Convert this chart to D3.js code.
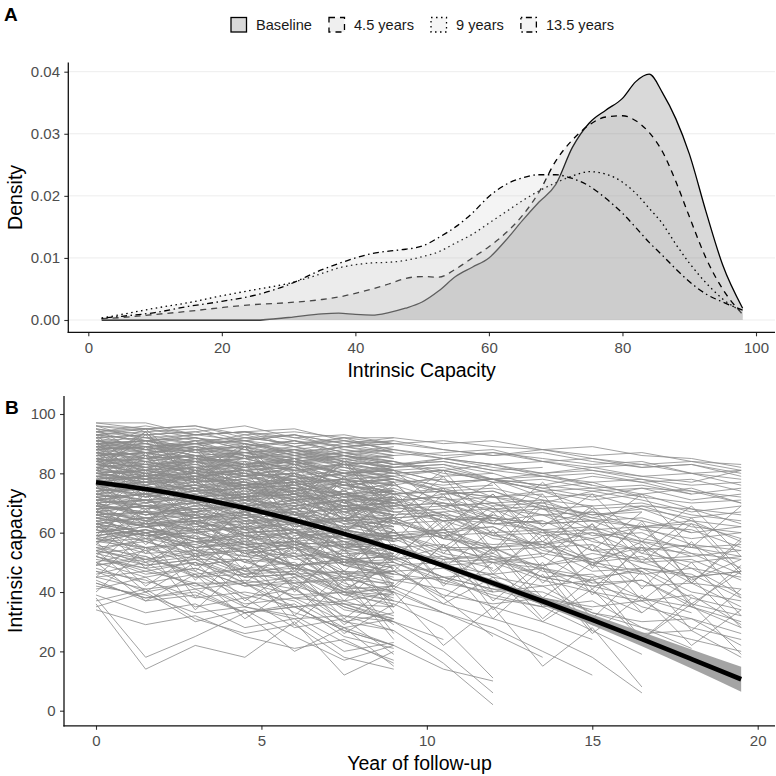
<!DOCTYPE html>
<html><head><meta charset="utf-8">
<script src="https://cdn.jsdelivr.net/npm/d3@7/dist/d3.min.js"></script>
<style>
html,body{margin:0;padding:0;background:#fff;}
svg{display:block;font-family:"Liberation Sans",Arial,Helvetica,sans-serif;}
</style></head>
<body><svg id="c" width="776" height="776"></svg>
<script>
// ---------- Panel A data ----------
const seriesNames = ["Baseline","4.5 years","9 years","13.5 years"];
const icGrid = [2,5,10,15,20,25,30,35,37.5,40,42.5,45,47.5,50,52.5,55,57.5,60,62.5,65,67.5,70,72.5,75,77.5,80,82,84,86,88,90,92.5,95,98];
const densBaseline = [0,0,0,0,0,0,0.0004,0.0010,0.0011,0.0009,0.0008,0.0012,0.0019,0.0029,0.0047,0.0070,0.0085,0.0100,0.0128,0.0160,0.0190,0.0218,0.0278,0.0317,0.0338,0.0357,0.0384,0.0396,0.0366,0.0324,0.0268,0.0175,0.0089,0.0019];
const dens45 = [0.0002,0.0004,0.0009,0.0014,0.0020,0.0025,0.0028,0.0033,0.0037,0.0043,0.0050,0.0058,0.0067,0.0070,0.0069,0.0082,0.0100,0.0118,0.0140,0.0168,0.0206,0.0256,0.0290,0.0314,0.0327,0.0329,0.0321,0.0302,0.0271,0.0223,0.0167,0.0100,0.0050,0.0009];
const dens9 = [0.0003,0.0009,0.0019,0.0028,0.0039,0.0049,0.0059,0.0075,0.0084,0.0089,0.0092,0.0093,0.0096,0.0102,0.0110,0.0124,0.0138,0.0156,0.0174,0.0192,0.0208,0.0221,0.0232,0.0239,0.0235,0.0222,0.0204,0.0180,0.0155,0.0122,0.0092,0.0060,0.0034,0.0013];
const dens135 = [0.0003,0.0006,0.0012,0.0022,0.0030,0.0040,0.0057,0.0081,0.0091,0.0100,0.0107,0.0111,0.0114,0.0119,0.0133,0.0150,0.0172,0.0199,0.0218,0.0229,0.0234,0.0234,0.0228,0.0216,0.0196,0.0172,0.0149,0.0125,0.0104,0.0082,0.0062,0.0042,0.0029,0.0016];
const densTicksY = [0,0.01,0.02,0.03,0.04];
const icTicksX = [0,20,40,60,80,100];

// ---------- Panel B data ----------
const waves = [0,1.5,3,4.5,6,7.5,9,10.5,12,13.5,15,16.5,18,19.5];
const meanIC  = [77.0,74.7,71.8,68.3,64.2,59.6,54.5,48.9,43.0,36.9,30.6,24.1,17.4,10.6];
const lowerIC = [76.0,73.9,71.1,67.6,63.5,58.9,53.7,48.0,41.9,35.5,28.8,21.7,14.2,6.4];
const upperIC = [78.0,75.5,72.5,69.0,64.9,60.3,55.3,49.8,44.1,38.3,32.4,26.5,20.6,14.8];
const yearTicks = [0,5,10,15,20];
const capTicks = [0,20,40,60,80,100];
// participants followed up to year 9
const trajTo9 = [
[96,94,95,91,93,90,92],[94,92,90,93,89,91,88],[93,95,92,89,91,87,89],[92,89,91,90,86,88,85],
[91,92,88,90,87,84,86],[90,88,91,86,88,85,82],[89,91,87,88,84,86,81],[89,85,88,86,83,80,83],
[88,90,86,83,86,82,80],[87,84,86,85,81,83,78],[87,89,85,82,84,80,81],[86,83,85,81,83,78,76],
[85,87,82,84,79,81,77],[85,81,84,80,78,80,74],[84,86,81,79,82,76,78],[83,80,82,78,80,75,72],
[83,85,79,81,76,78,73],[82,78,81,77,74,77,70],[81,83,80,75,78,72,74],[80,77,79,76,72,74,68],
[80,82,77,78,73,70,72],[79,76,78,73,75,70,66],[78,80,75,77,71,73,67],[77,74,76,71,73,67,69],
[77,79,73,75,69,71,64],[76,72,75,70,68,71,62],[75,77,72,69,71,65,66],[74,71,73,68,70,63,60],
[73,75,70,71,65,67,61],[72,68,71,66,63,65,57],[71,73,67,69,62,64,58],[70,66,69,63,65,58,54],
[69,71,65,67,60,56,59],[68,64,66,61,63,55,52],[67,69,63,64,57,59,50],[66,62,65,58,60,52,55],
[65,67,60,62,55,50,53],[64,60,63,56,57,49,46],[63,65,58,60,52,54,44],[62,57,61,53,55,46,49],
[60,63,55,57,49,44,47],[59,54,57,50,52,42,40],[57,60,52,55,45,47,37],[56,51,54,46,49,39,42],
[54,58,49,51,42,37,40],[52,47,50,43,45,34,31],[50,54,45,48,38,40,29],[48,43,46,38,41,30,33],
[46,50,41,43,33,28,31],[43,38,41,33,36,25,21],[41,45,35,38,28,31,19],[39,33,36,28,31,20,23],
[37,41,31,26,29,18,14],[34,29,32,25,21,24,16],
[97,97,93,94,95,91,90],[95,93,94,96,92,89,91],[94,95,96,92,90,92,87],[93,91,89,92,93,88,86],
[92,93,94,90,87,89,90],[91,90,87,89,91,86,84],[90,91,92,88,85,87,88],[89,88,85,87,89,84,82],
[88,89,90,86,83,85,86],[87,86,83,85,87,82,79],[86,87,88,83,81,83,84],[85,84,81,83,85,79,76],
[84,85,86,81,78,80,82],[83,82,79,81,82,76,73],[82,83,84,79,76,78,79],[81,80,77,79,80,73,70],
[80,81,82,76,74,76,77],[79,78,74,76,78,70,67],[78,79,80,74,71,73,74],[77,76,72,74,75,67,64],
[76,77,77,71,69,71,71],[75,73,70,72,73,64,61],[74,75,75,69,66,68,68],[73,71,67,69,70,61,58],
[72,73,73,66,63,65,65],[71,69,65,67,67,58,55],[70,71,71,64,61,62,62],[69,67,62,64,64,55,51],
[68,69,68,61,58,59,59],[67,64,60,62,61,52,48],[66,67,66,59,55,56,56],[65,62,57,59,58,49,45],
[64,65,63,56,52,53,53],[63,60,55,57,55,46,42],[62,63,61,53,49,50,50],[61,57,52,54,52,43,38],
[59,61,58,50,46,47,46],[58,55,49,51,49,40,35],[57,58,55,47,43,44,43],[55,52,46,48,46,36,31],
[53,55,51,43,39,40,39],[51,48,42,44,41,32,27],[49,51,47,39,35,36,35],[47,44,38,40,37,28,22],
[45,47,43,35,31,32,30],[42,39,33,35,32,23,17],
[96,91,93,94,89,92,90],[94,90,92,88,91,87,85],[93,88,90,91,86,89,87],[91,87,89,85,88,83,81],
[90,85,88,89,83,86,84],[88,84,86,82,85,80,78],[87,82,85,86,80,83,81],[85,81,83,79,82,76,74],
[84,79,82,83,77,80,77],[82,78,80,76,79,73,70],[81,76,79,80,73,76,74],[79,75,77,72,75,69,66],
[78,73,76,76,70,73,70],[76,72,74,69,71,65,62],[75,70,72,73,66,69,66],[73,69,70,65,68,61,58],
[72,66,69,69,62,65,62],[70,65,67,61,64,57,53],[69,63,65,65,58,61,57],[67,62,63,57,60,52,48],
[65,59,61,61,54,56,52],[63,58,59,53,55,47,43],[61,55,57,56,49,51,46],[58,53,54,48,50,41,37],
[55,49,51,51,43,45,40],[52,46,48,42,44,35,30],[47,40,43,43,35,37,32],[44,37,39,33,35,27,22],
[38,18,25,33,20,28,15],[36,14,22,18,30,12,20],[35,40,30,34,25,17,22],
[86,70,79,62,74,55,66],[58,74,52,69,47,63,39],[93,79,88,72,83,65,76],[69,84,63,78,56,71,50],
[79,63,75,57,69,50,61],[52,68,47,62,40,55,33],[88,95,80,90,74,84,68],[63,48,60,43,56,37,52],
[75,89,70,84,62,78,57],[45,60,38,54,32,47,26],[82,67,78,61,72,56,66],[57,42,53,37,48,31,43],
[91,77,86,71,80,64,75],[68,53,64,47,59,40,53],[72,86,66,81,61,75,55],[40,55,34,49,29,44,24],
[84,94,78,89,73,83,67],[50,37,46,31,42,26,36]
];
// participants followed up to year 19.5
const trajTo195 = [
[96,95,93,94,92,93,90,91,89,88,86,87,84,83],[94,96,93,91,93,90,91,88,86,88,85,83,84,81],
[93,91,92,90,88,90,87,85,87,84,82,83,80,78],[92,93,90,91,89,86,88,85,83,84,81,79,80,76],
[91,89,90,87,88,86,83,85,82,80,81,78,76,77],[90,91,88,89,85,87,84,81,83,79,77,78,74,72],
[89,87,88,85,86,83,84,80,78,80,76,73,75,70],[88,89,86,87,83,84,80,81,77,75,77,72,70,71],
[87,85,86,83,84,80,81,77,78,74,71,73,68,66],[86,87,84,85,81,82,78,76,78,72,73,68,65,67],
[85,83,84,81,82,78,79,74,72,74,68,69,64,62],[84,85,82,83,79,76,78,73,74,69,66,68,62,60],
[83,81,82,79,80,76,73,75,70,71,65,62,64,57],[82,83,80,81,77,78,73,74,68,66,67,61,58,60],
[81,79,80,77,75,77,71,72,67,68,61,62,56,54],[80,81,78,79,75,73,75,69,70,63,64,58,55,56],
[79,77,78,75,76,71,72,66,64,66,59,60,53,51],[78,79,76,77,72,73,68,69,63,64,57,54,56,48],
[77,75,76,73,74,69,70,64,65,59,60,53,50,52],[76,77,74,72,74,68,66,67,60,61,54,55,48,45],
[75,73,74,71,69,71,65,66,59,56,58,50,51,44],[74,75,72,73,68,69,63,60,62,55,56,48,45,47],
[73,71,72,68,69,64,65,59,60,53,50,52,43,41],[72,73,70,71,66,62,64,58,55,57,49,46,48,39],
[71,69,70,66,67,62,59,61,54,55,47,48,40,37],[70,71,68,69,63,64,58,59,52,49,51,42,43,35],
[69,67,68,64,65,59,60,54,55,48,45,47,38,34],[68,69,66,67,61,58,60,53,50,52,43,44,36,32],
[67,65,66,62,63,57,58,51,52,45,46,38,35,30],[66,67,64,65,59,60,54,51,53,45,42,44,35,28],
[65,63,64,60,61,55,56,49,46,48,40,37,39,29],[63,65,61,62,56,57,51,52,45,42,44,35,31,26],
[61,59,60,56,57,51,52,45,46,38,35,37,28,24],[59,61,57,54,56,49,50,43,40,42,33,30,31,22],
[57,55,56,52,49,51,44,45,38,35,37,28,24,20],[55,57,53,54,48,45,47,39,36,38,29,26,27,18],
[91,88,90,91,87,89,86,87,88,84,85,82,83,80],[88,86,84,87,88,84,82,85,83,80,82,79,77,81],
[85,82,84,85,81,79,82,83,78,76,79,77,73,75],[83,80,78,82,83,78,76,79,80,75,72,75,74,70],
[80,77,79,80,75,73,77,78,72,70,74,71,67,69],[78,74,72,76,77,72,70,73,74,68,65,69,68,63],
[75,72,74,75,70,67,71,72,65,63,67,64,60,62],[72,69,67,71,72,66,63,67,68,61,58,62,61,55],
[70,66,68,69,64,61,65,66,58,56,60,57,52,54],[67,64,61,66,67,60,57,61,62,54,51,55,53,46],
[64,60,62,63,57,55,59,60,51,49,53,50,45,47],[62,59,56,60,61,54,51,55,55,47,44,48,46,38],
[97,95,96,93,94,92,92,90,91,88,89,86,85,82],[95,92,93,94,91,89,90,88,86,87,84,82,83,79],
[93,94,91,92,90,91,88,86,87,85,83,84,80,81],[90,87,89,86,84,86,83,84,81,79,80,77,78,74],
[86,88,85,83,85,81,79,81,78,76,74,75,71,73],[83,84,81,82,79,77,78,74,75,71,69,70,66,64],
[79,81,78,76,77,73,74,70,68,69,64,62,63,58],[76,74,75,72,73,69,67,68,63,61,62,57,55,52],
[88,74,81,69,77,64,72,58,66,61,49,57,44,51],[61,76,63,70,57,73,52,64,47,59,41,55,36,47],
[92,81,89,73,84,70,77,62,73,55,68,50,63,46],[71,58,67,52,64,47,61,43,55,38,50,33,45,28],
[83,91,74,86,66,79,63,75,54,71,48,64,43,58],[56,69,51,64,46,61,42,56,37,50,31,47,27,41],
[95,86,91,79,85,74,81,68,77,62,73,57,69,52],[77,64,73,59,69,54,65,48,61,43,56,37,50,32],
[67,81,61,76,57,71,51,66,46,61,39,56,35,49],[85,72,81,66,77,60,73,53,67,48,63,41,57,38],
[49,64,44,59,41,54,35,51,31,46,26,39,22,34],[90,78,85,71,81,66,77,61,73,57,69,53,65,47],
[73,87,69,83,63,79,57,73,53,69,49,63,43,57],[64,50,59,45,55,41,49,36,45,30,41,24,36,19],
[80,93,77,89,71,85,69,81,63,77,61,73,55,69]
];
// participants who left the study between year 10.5 and 18
const trajDropout = [
[89,90,87,85,87,83,84,79],[82,79,81,77,78,73,71,66],[74,76,71,72,66,64,65,58],
[66,62,64,59,56,57,50,44],[58,60,54,52,53,45,40,33],[50,45,48,42,43,35,30,24],
[91,88,89,87,85,86,82,83,80],[86,87,84,82,84,79,80,75,76],[80,78,79,75,76,71,69,70,64],
[77,79,75,76,71,72,67,64,66],[71,68,70,65,66,61,58,60,53],[67,69,65,66,60,58,59,52,48],
[62,59,60,55,56,50,47,48,40],[57,60,54,55,48,46,47,38,25],[53,49,51,45,46,39,36,28,11],
[49,52,45,46,38,36,30,20,6],[45,41,43,36,38,30,27,16,2],[43,38,40,33,35,27,22,14,10],
[90,91,88,89,86,87,83,84,81,82],[84,82,83,80,81,77,78,74,72,73],[76,78,74,75,71,69,70,65,63,64],
[69,66,67,63,64,59,60,55,51,53],[60,62,58,59,53,51,52,45,41,36],[52,48,50,45,46,40,37,33,26,18],
[88,89,86,87,84,85,81,82,78,79,76],[83,80,82,78,79,75,76,71,72,68,69],[79,81,77,78,73,74,69,70,65,63,64],
[73,70,72,67,68,63,64,58,56,57,51],[68,70,65,66,60,61,55,56,50,48,43],[63,60,61,56,57,51,49,50,42,38,34],
[58,61,55,56,49,50,44,41,35,30,24],[54,50,52,46,47,40,41,33,28,20,12],
[87,85,86,83,84,80,81,77,78,74,75,72],[82,84,80,81,77,78,73,74,69,70,66,67],[77,75,76,72,73,68,69,64,65,60,61,56],
[71,73,69,70,64,65,60,61,55,56,50,47],[65,62,64,59,60,54,55,49,50,44,40,33],[59,61,57,58,51,52,46,44,39,35,27,19],
[54,51,53,47,48,41,42,36,31,26,18,6],
[86,87,85,84,82,83,80,81,77,78,75,76,73],[80,78,79,76,77,72,73,69,70,66,64,65,60],
[73,75,71,72,67,68,63,64,59,60,54,51,52],[66,63,64,60,61,55,56,50,51,45,42,38,33],
[60,62,58,55,57,50,51,45,41,40,33,28,21],
[87,73,82,67,78,60,72,55,66],[66,80,60,75,53,69,47,62,40],[76,62,71,56,67,49,61,42,55,35],
[59,73,54,68,48,62,41,56,34,48,27],[89,76,84,70,80,64,74,58,69,52,63,46],
[70,56,66,50,61,44,56,38,50,31,45,24,38],[81,94,76,89,70,84,65,79,59,73,54,67],
[54,40,50,35,45,29,40,22,35,15,28,8]
];

// ---------- styles ----------
const fillCols = ["#414141","#b1b1b1","#cdcdcd","#c8c8c8"];
const dashes = [null,"6,5","1.5,3.5","1.5,3.5,6,3.5"];
const FONT_TICK = 15, FONT_TITLE = 19.5;

const svg = d3.select("#c");
svg.append("rect").attr("width",776).attr("height",776).attr("fill","#fff");

// ================= PANEL A =================
const A = {left:68.3, right:775, top:62.5, bottom:332.3};
const xA = d3.scaleLinear().domain([0,100]).range([88.3,756]);
const yA = d3.scaleLinear().domain([0,0.04]).range([320,71.7]);

const gA = svg.append("g");
gA.selectAll("line.grid").data(densTicksY).join("line")
  .attr("x1",A.left).attr("x2",A.right)
  .attr("y1",d=>yA(d)).attr("y2",d=>yA(d))
  .attr("stroke","#ebebeb").attr("stroke-width",0.9);

const densSeries = [densBaseline,dens45,dens9,dens135];
const area = d3.area().x((d,i)=>xA(icGrid[i])).y0(yA(0)).y1(d=>yA(d)).curve(d3.curveMonotoneX);
const lineA = d3.line().x((d,i)=>xA(icGrid[i])).y(d=>yA(d)).curve(d3.curveMonotoneX);
densSeries.forEach((s,k)=>{
  gA.append("path").attr("d",area(s)).attr("fill",fillCols[k]).attr("fill-opacity",0.2).attr("stroke","none");
  const p = gA.append("path").attr("d",lineA(s)).attr("fill","none").attr("stroke","#000").attr("stroke-width",1.3);
  if (dashes[k]) p.attr("stroke-dasharray",dashes[k]);
});

gA.append("g").attr("transform",`translate(${A.left},0)`)
  .call(d3.axisLeft(yA).tickValues(densTicksY).tickFormat(d3.format(".2f")).tickSize(4).tickPadding(4.3));
gA.append("g").attr("transform",`translate(0,${A.bottom})`)
  .call(d3.axisBottom(xA).tickValues(icTicksX).tickFormat(d3.format("d")).tickSize(4).tickPadding(5.7));
gA.append("line").attr("x1",A.left).attr("x2",A.left).attr("y1",A.top).attr("y2",A.bottom+0.6).attr("stroke","#111").attr("stroke-width",1.3);
gA.append("line").attr("x1",A.left-0.6).attr("x2",A.right).attr("y1",A.bottom).attr("y2",A.bottom).attr("stroke","#111").attr("stroke-width",1.3);

gA.append("text").attr("x",(A.left+A.right)/2).attr("y",377).attr("text-anchor","middle")
  .attr("font-size",FONT_TITLE).attr("fill","#000").text("Intrinsic Capacity");
gA.append("text").attr("transform",`translate(21.5,${(A.top+A.bottom)/2}) rotate(-90)`).attr("text-anchor","middle")
  .attr("font-size",FONT_TITLE).attr("fill","#000").text("Density");
svg.append("text").attr("x",4).attr("y",21).attr("font-size",19).attr("font-weight","bold").text("A");

// legend
const leg = svg.append("g");
let lx = 231;
seriesNames.forEach((n,k)=>{
  leg.append("rect").attr("x",lx).attr("y",17.5).attr("width",15.5).attr("height",14.5).attr("fill","#fff");
  const r = leg.append("rect").attr("x",lx).attr("y",17.5).attr("width",15.5).attr("height",14.5)
    .attr("fill",fillCols[k]).attr("fill-opacity",0.2).attr("stroke","#000").attr("stroke-width",1.3);
  if (dashes[k]) r.attr("stroke-dasharray",dashes[k]);
  const t = leg.append("text").attr("x",lx+25).attr("y",30).attr("font-size",14.6).attr("fill","#1a1a1a").text(n);
  lx += 25 + t.node().getComputedTextLength() + 17;
});

// ================= PANEL B =================
const B = {left:64, right:775, top:396, bottom:725.8};
const xB = d3.scaleLinear().domain([0,20]).range([96,757.7]);
const yB = d3.scaleLinear().domain([0,100]).range([710.7,414]);
const gB = svg.append("g");

const trajectories = trajTo9.concat(trajTo195, trajDropout);
const lineB = d3.line().x((d,i)=>xB(waves[i])).y(d=>yB(d));
gB.append("g").selectAll("path").data(trajectories).join("path")
  .attr("d",d=>lineB(d)).attr("fill","none").attr("stroke","#8a8a8a").attr("stroke-width",0.8);

const ribbon = d3.area().x((d,i)=>xB(waves[i])).y0((d,i)=>yB(lowerIC[i])).y1((d,i)=>yB(upperIC[i])).curve(d3.curveMonotoneX);
gB.append("path").attr("d",ribbon(meanIC)).attr("fill","#9a9a9a").attr("fill-opacity",0.9);
gB.append("path").attr("d",d3.line().x((d,i)=>xB(waves[i])).y(d=>yB(d)).curve(d3.curveMonotoneX)(meanIC))
  .attr("fill","none").attr("stroke","#000").attr("stroke-width",4.6);

gB.append("g").attr("transform",`translate(${B.left},0)`)
  .call(d3.axisLeft(yB).tickValues(capTicks).tickFormat(d3.format("d")).tickSize(4).tickPadding(4.3));
gB.append("g").attr("transform",`translate(0,${B.bottom})`)
  .call(d3.axisBottom(xB).tickValues(yearTicks).tickFormat(d3.format("d")).tickSize(4).tickPadding(5.7));
gB.append("line").attr("x1",B.left).attr("x2",B.left).attr("y1",B.top).attr("y2",B.bottom+0.6).attr("stroke","#111").attr("stroke-width",1.3);
gB.append("line").attr("x1",B.left-0.6).attr("x2",B.right).attr("y1",B.bottom).attr("y2",B.bottom).attr("stroke","#111").attr("stroke-width",1.3);

gB.append("text").attr("x",(B.left+B.right)/2).attr("y",770).attr("text-anchor","middle")
  .attr("font-size",FONT_TITLE).attr("fill","#000").text("Year of follow-up");
gB.append("text").attr("transform",`translate(21.5,${(B.top+B.bottom)/2}) rotate(-90)`).attr("text-anchor","middle")
  .attr("font-size",FONT_TITLE).attr("fill","#000").text("Intrinsic capacity");
svg.append("text").attr("x",5).attr("y",414).attr("font-size",19).attr("font-weight","bold").text("B");

svg.selectAll(".domain").remove();
svg.selectAll(".tick line").attr("stroke","#333").attr("stroke-width",1.1);
svg.selectAll(".tick text").attr("font-size",FONT_TICK).attr("fill","#4d4d4d")
  .attr("font-family","'Liberation Sans',Arial,Helvetica,sans-serif");
</script></body></html>
